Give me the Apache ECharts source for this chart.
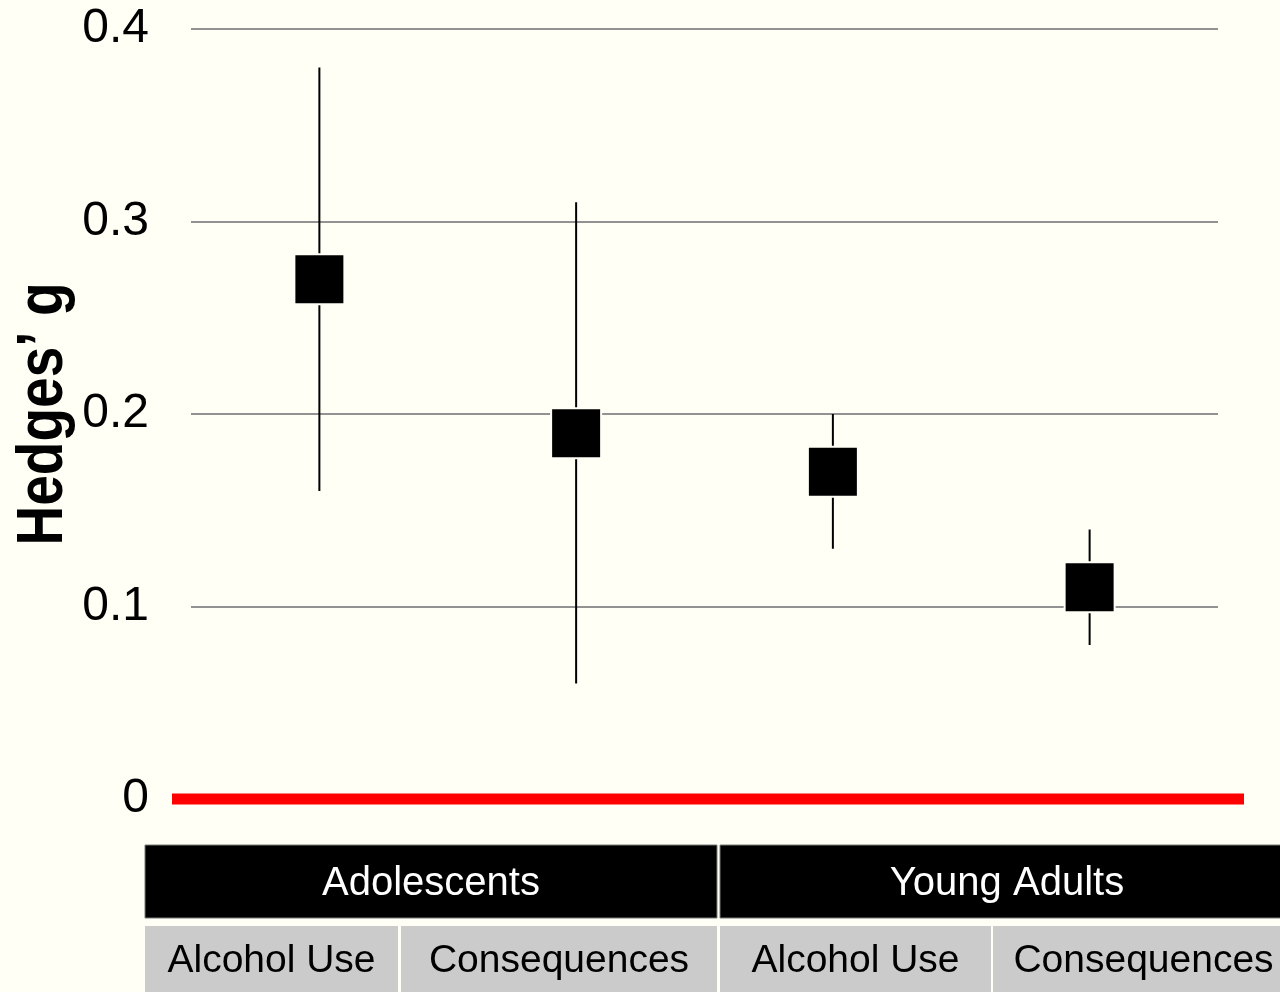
<!DOCTYPE html>
<html>
<head>
<meta charset="utf-8">
<title>Hedges' g by age group and outcome</title>
<script src="https://cdn.jsdelivr.net/npm/echarts@6/dist/echarts.min.js"></script>
<style>
  html, body { margin: 0; padding: 0; background: #fffff6; }
  #chart { width: 1280px; height: 992px; }
</style>
</head>
<body>
<div id="chart"></div>
<script>
// Effect sizes (Hedges' g) with 95% confidence limits
const categories = ['Adolescents / Alcohol Use', 'Adolescents / Consequences', 'Young Adults / Alcohol Use', 'Young Adults / Consequences'];
const hedgesG = [0.27, 0.19, 0.17, 0.11];
const ciLower = [0.16, 0.06, 0.13, 0.08];
const ciUpper = [0.38, 0.31, 0.20, 0.14];

// Labels of the two-row table under the plot
const groupLabels = ['Adolescents', 'Young Adults'];
const outcomeLabels = ['Alcohol Use', 'Consequences', 'Alcohol Use', 'Consequences'];
const yTitle = 'Hedges\u2019 g';

// Y axis scale
const yMin = 0;
const yMax = 0.4;
const yStep = 0.1;

const BG = '#fffff6';
const SANS = '"Liberation Sans", Arial, sans-serif';

const chart = echarts.init(document.getElementById('chart'), null, { renderer: 'canvas' });

chart.setOption({
  backgroundColor: BG,
  animation: false,
  grid: { left: 191, right: 62, top: 29, bottom: 193, containLabel: false },
  xAxis: {
    type: 'category',
    data: categories,
    boundaryGap: true,
    axisLine: { show: false },
    axisTick: { show: false },
    axisLabel: { show: false },
    splitLine: { show: false }
  },
  yAxis: {
    type: 'value',
    min: yMin,
    max: yMax,
    interval: yStep,
    axisLine: { show: false },
    axisTick: { show: false },
    axisLabel: {
      color: '#000',
      fontFamily: SANS,
      fontSize: 48,
      margin: 42
    },
    splitLine: { lineStyle: { color: '#929292', width: 2 } }
  },
  series: [
    {
      name: 'CI',
      type: 'custom',
      z: 2,
      renderItem: function (params, api) {
        const i = api.value(0);
        const lo = api.coord([i, api.value(1)]);
        const hi = api.coord([i, api.value(2)]);
        return {
          type: 'line',
          shape: { x1: lo[0], y1: lo[1], x2: hi[0], y2: hi[1] },
          style: { stroke: '#000', lineWidth: 2 }
        };
      },
      data: categories.map((c, i) => [i, ciLower[i], ciUpper[i]])
    },
    {
      name: yTitle,
      type: 'scatter',
      z: 3,
      symbol: 'rect',
      symbolSize: 50,
      itemStyle: { color: '#000', borderColor: BG, borderWidth: 2, opacity: 1 },
      data: categories.map((c, i) => [i, hedgesG[i]])
    }
  ]
});

// Zero reference line, axis title and the group/outcome table beneath the plot
const y0 = chart.convertToPixel({ yAxisIndex: 0 }, 0);
const yTop = chart.convertToPixel({ yAxisIndex: 0 }, yMax);

const tableTop = 845;
const headH = 73;
const rowTop = 926;
const rowH = 70;
const headCells = [[145, 572], [720, 574]];
const rowCells = [[145, 253], [401, 316], [720, 271], [993, 301]];

const graphics = [
  {
    type: 'line',
    z: 10,
    shape: { x1: 172, y1: y0, x2: 1244, y2: y0 },
    style: { stroke: '#ff0000', lineWidth: 11 }
  },
  {
    // condensed bold axis title, reading bottom to top
    type: 'text',
    z: 11,
    x: 44,
    y: (y0 + yTop) / 2,
    rotation: Math.PI / 2,
    scaleX: 0.86,
    style: {
      text: yTitle,
      x: 0,
      y: 0,
      fill: '#000',
      fontFamily: SANS,
      fontWeight: 'bold',
      fontSize: 64,
      align: 'center',
      verticalAlign: 'middle'
    }
  }
];

headCells.forEach((c, i) => {
  graphics.push({
    type: 'rect',
    shape: { x: c[0], y: tableTop, width: c[1], height: headH },
    style: { fill: '#000', stroke: '#7a7a7a', lineWidth: 1 }
  });
  graphics.push({
    type: 'text',
    z: 11,
    style: {
      text: groupLabels[i],
      x: c[0] + c[1] / 2,
      y: tableTop + headH / 2 + 2,
      fill: '#fff',
      fontFamily: SANS,
      fontSize: 40,
      align: 'center',
      verticalAlign: 'middle'
    }
  });
});

rowCells.forEach((c, i) => {
  graphics.push({
    type: 'rect',
    shape: { x: c[0], y: rowTop, width: c[1], height: rowH },
    style: { fill: '#cbcbcb' }
  });
  graphics.push({
    type: 'text',
    z: 11,
    style: {
      text: outcomeLabels[i],
      x: c[0] + c[1] / 2,
      y: rowTop + 35,
      fill: '#000',
      fontFamily: SANS,
      fontSize: 39,
      align: 'center',
      verticalAlign: 'middle'
    }
  });
});

chart.setOption({ graphic: graphics });
</script>
</body>
</html>
